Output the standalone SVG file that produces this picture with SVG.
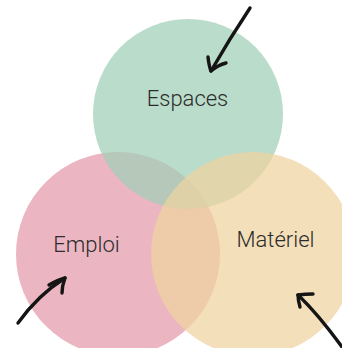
<svg xmlns="http://www.w3.org/2000/svg" width="342" height="348" viewBox="0 0 342 348">
<style>
.c{fill-opacity:0.72}
.lbl{font-family:Roboto,"Liberation Sans",sans-serif;font-weight:300;font-size:22px;fill:#2b2b2b;text-anchor:middle}
.arr{fill:none;stroke:#151515;stroke-width:3.4;stroke-linecap:round;stroke-linejoin:round}
</style>
<rect width="342" height="348" fill="#ffffff"/>
<g id="emploi"><circle class="c" cx="118" cy="254" r="102" fill="#e39aaa"/></g>
<g id="espaces"><circle class="c" cx="188" cy="114" r="95" fill="#9fceb5"/></g>
<g id="materiel"><circle class="c" cx="253" cy="254" r="102" fill="#efd3a0"/></g>
<text class="lbl" x="187.5" y="106">Espaces</text>
<text class="lbl" x="86.5" y="252">Emploi</text>
<text class="lbl" x="275.5" y="247">Matériel</text>
<g id="connectors">
<path class="arr" d="M250,8 Q230,38 211,71"/>
<path class="arr" d="M208,57 Q209,66 211,71 Q218,65 226,63"/>
<path class="arr" d="M18,323 Q38,295 65,278"/>
<path class="arr" d="M49,285 Q58,280 65,278 Q62,286 62,293"/>
<path class="arr" d="M342,347 Q318,314 298,295"/>
<path class="arr" d="M300,307 Q298,300 298,295 Q305,294 313,294"/>
</g>
</svg>
